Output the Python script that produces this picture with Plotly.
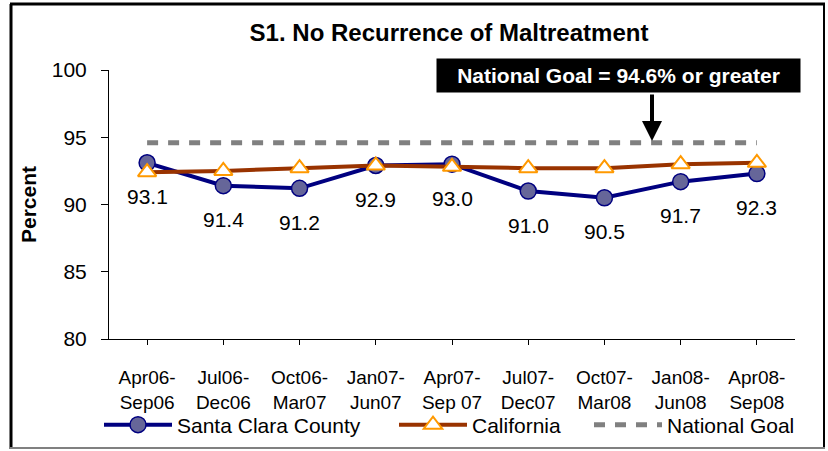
import plotly.graph_objects as go

categories = ["Apr06-<br>Sep06", "Jul06-<br>Dec06", "Oct06-<br>Mar07", "Jan07-<br>Jun07",
              "Apr07-<br>Sep 07", "Jul07-<br>Dec07", "Oct07-<br>Mar08", "Jan08-<br>Jun08",
              "Apr08-<br>Sep08"]
santa_clara = [93.1, 91.4, 91.2, 92.9, 93.0, 91.0, 90.5, 91.7, 92.3]
california = [92.4, 92.5, 92.7, 92.9, 92.8, 92.7, 92.7, 93.0, 93.1]
national_goal = [94.6] * 9
goal_text = "National Goal = 94.6% or greater"
title_text = "S1. No Recurrence of Maltreatment"

W, H = 828, 451
L, R, T, B = 109, 33, 70, 112
pw, ph = W - L - R, H - T - B

def px(x):
    return (x - L) / pw

def py(y):
    return (H - B - y) / ph

FONT = "Liberation Sans, Arial, sans-serif"

fig = go.Figure()
fig.add_trace(go.Scatter(
    x=categories, y=santa_clara, name="Santa Clara County", mode="lines+markers",
    line=dict(color="#000080", width=4),
    marker=dict(symbol="circle", size=16, color="#666699", line=dict(color="#000080", width=1.5)),
    legend="legend",
))
fig.add_trace(go.Scatter(
    x=categories, y=california, name="California", mode="lines+markers",
    line=dict(color="#993300", width=4),
    marker=dict(symbol="triangle-up", size=16, color="white", line=dict(color="#FF9900", width=2)),
    legend="legend2",
))
fig.add_trace(go.Scatter(
    x=categories, y=national_goal, name="National Goal", mode="lines",
    line=dict(color="#808080", width=5, dash="11px,10px"),
    legend="legend3",
))

for c, v in zip(categories, santa_clara):
    fig.add_annotation(x=c, y=v, text=f"{v:.1f}", showarrow=False, yshift=-34,
                       font=dict(family=FONT, size=21, color="black"))

# National goal callout
fig.add_annotation(x=px(618), y=py(75.5), xref="paper", yref="paper", xanchor="center", yanchor="middle",
                   text="<b>" + goal_text + "</b>",
                   showarrow=False, bgcolor="black", font=dict(family=FONT, size=21, color="white"),
                   width=359, height=29, borderpad=2)
fig.add_annotation(x=px(652), y=py(141), ax=0, ay=-48, xref="paper", yref="paper",
                   axref="pixel", ayref="pixel",
                   text="", showarrow=True, arrowhead=2, arrowsize=1, arrowwidth=4,
                   arrowcolor="black", standoff=0)

# Frame
fig.add_shape(type="line", xref="paper", yref="paper", x0=px(11), x1=px(11), y0=py(4), y1=py(449),
              line=dict(color="black", width=3))
fig.add_shape(type="line", xref="paper", yref="paper", x0=px(10), x1=px(825), y0=py(4), y1=py(4),
              line=dict(color="black", width=3))
fig.add_shape(type="line", xref="paper", yref="paper", x0=px(824), x1=px(824), y0=py(4), y1=py(449),
              line=dict(color="black", width=2))
fig.add_shape(type="line", xref="paper", yref="paper", x0=px(10), x1=px(825), y0=py(448), y1=py(448),
              line=dict(color="#808080", width=2))

legend_common = dict(orientation="h", yanchor="middle", xanchor="left", y=py(425),
                     font=dict(size=21, family=FONT), itemwidth=68, bgcolor="rgba(0,0,0,0)")

fig.update_layout(
    width=W, height=H,
    margin=dict(l=L, r=R, t=T, b=B, autoexpand=False),
    paper_bgcolor="white", plot_bgcolor="white",
    font=dict(family=FONT, size=19, color="black"),
    title=dict(text="<b>" + title_text + "</b>", x=px(449), xref="paper", xanchor="center",
               y=1 - 33 / H, yanchor="middle", font=dict(size=24, family=FONT)),
    showlegend=True,
    legend=dict(x=px(99), **legend_common),
    legend2=dict(x=px(394), **legend_common),
    legend3=dict(x=px(589), **legend_common),
    xaxis=dict(showline=True, linecolor="black", linewidth=1, ticks="outside", ticklen=5,
               tickcolor="black", showgrid=False, zeroline=False, fixedrange=True, automargin=False,
               tickfont=dict(size=19, family=FONT), range=[-0.5, 8.5], ticklabelstandoff=16),
    yaxis=dict(range=[80, 100], dtick=5, showline=True, linecolor="black", linewidth=1,
               ticks="outside", ticklen=7, tickcolor="black", showgrid=False, zeroline=False,
               automargin=False, ticklabelstandoff=10,
               title=dict(text="<b>Percent</b>", font=dict(size=21, family=FONT), standoff=9),
               tickfont=dict(size=21, family=FONT)),
)

fig.write_html("out.html", config={"displayModeBar": False},
               post_script="document.body.style.margin='0';document.body.style.overflow='hidden';")
